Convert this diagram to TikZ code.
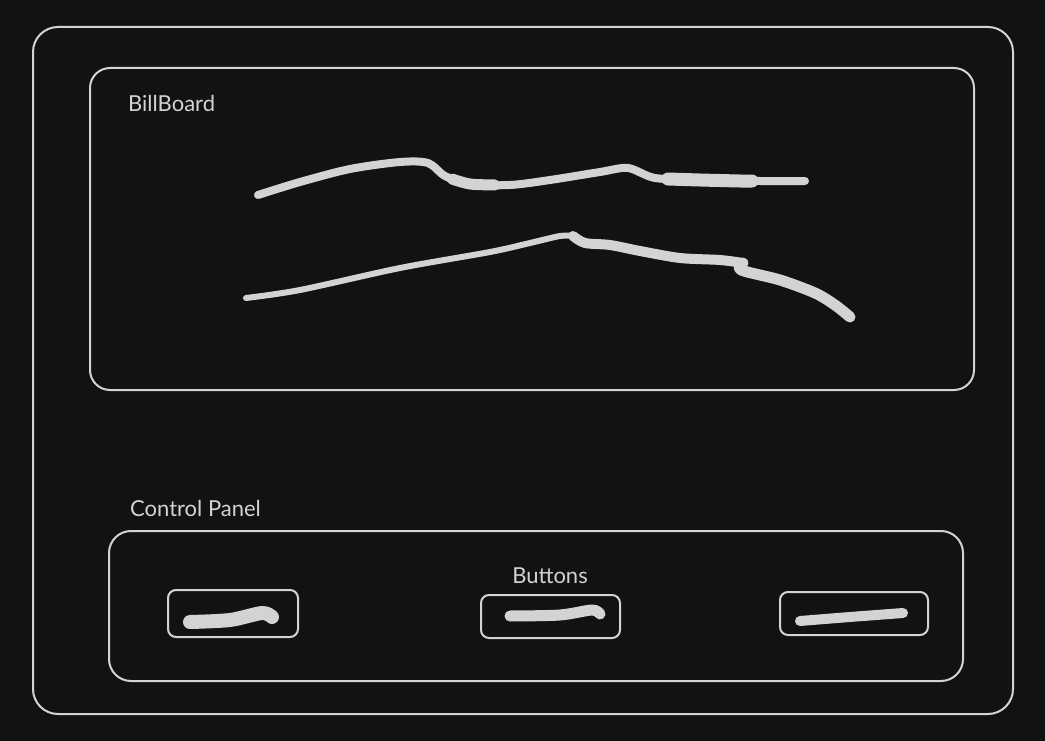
\documentclass[tikz,border=0pt]{standalone}
\usepackage{fontspec}
\setmainfont{Lato}
\usepackage{xcolor}
\usepackage{tikz}
\usetikzlibrary{positioning, calc}

\definecolor{bgdark}{HTML}{121212}
\definecolor{chalk}{HTML}{D3D3D3}

\begin{document}
\begin{tikzpicture}[
    x=1pt, y=-1pt,
    panel/.style={rectangle, draw=chalk, line width=2pt, inner sep=0pt},
    label/.style={text=chalk, font=\fontsize{22}{26}\selectfont, inner sep=0pt},
    scribble/.style={draw=chalk, line width=5pt, line cap=round, line join=round},
]
% Background
\fill[bgdark] (0,0) rectangle (1045,741);
\useasboundingbox (0,0) rectangle (1045,741);

% Frames
\node (screen) [panel, rounded corners=25pt, minimum width=980pt, minimum height=687pt] at (523,370.5) {};
\node (board) [panel, rounded corners=20pt, minimum width=884pt, minimum height=322pt] at (532,229) {};
\node (control) [panel, rounded corners=22pt, minimum width=854pt, minimum height=150pt] at (536,606) {};

% Labels
\node (boardlabel) [label, anchor=west] at (128,103) {BillBoard};
\node (controllabel) [label, anchor=west] at (130,508) {Control Panel};
\node (buttonslabel) [label] at (550,576) {Buttons};

% Buttons
\node (btnleft) [panel, rounded corners=8pt, minimum width=130pt, minimum height=47pt] at (233,613.5) {};
\node (btnmid) [panel, rounded corners=8pt, minimum width=139pt, minimum height=43pt] at (550.5,616.5) {};
\node (btnright) [panel, rounded corners=8pt, minimum width=148pt, minimum height=43pt] at (854,613.5) {};

% Billboard scribbles
\draw[scribble, line width=8pt] plot[smooth, tension=0.5] coordinates {(258,195) (300,182) (350,169) (400,162) (428,163) (445,176) (470,184) (510,185) (550,180) (600,172) (628,168) (655,178) (700,180) (760,181) (805,181)};
\draw[scribble, line width=11pt] plot[smooth, tension=0.5] coordinates {(452,179) (470,184) (495,185)};
\draw[scribble, line width=13pt] plot[smooth, tension=0.5] coordinates {(668,179) (700,180) (740,181) (752,181)};
\draw[scribble, line width=6pt] plot[smooth, tension=0.5] coordinates {(246,298) (300,290) (400,268) (490,252) (530,243) (560,236) (573,236)};
\draw[scribble, line width=10pt] plot[smooth, tension=0.5] coordinates {(573,236) (585,243) (610,245) (640,251) (680,258) (720,260) (743,263)};
\draw[scribble, line width=11pt] plot[smooth, tension=0.5] coordinates {(743,263) (741,270) (780,280) (815,293) (835,305) (850,317)};

% Button scribbles
\draw[scribble, line width=14pt] plot[smooth, tension=0.5] coordinates {(190,622) (230,620) (262,613) (272,617)};
\draw[scribble, line width=11pt] plot[smooth, tension=0.5] coordinates {(510,616) (560,615) (592,610) (600,614)};
\draw[scribble, line width=10pt] plot[smooth, tension=0.5] coordinates {(800,621) (850,617) (903,613)};
\end{tikzpicture}
\end{document}
